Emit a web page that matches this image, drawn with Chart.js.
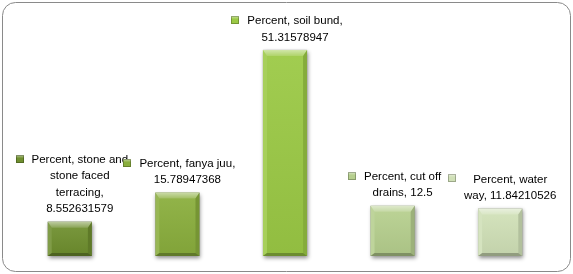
<!DOCTYPE html>
<html>
<head>
<meta charset="utf-8">
<script src="https://cdn.jsdelivr.net/npm/chart.js@4/dist/chart.umd.min.js"></script>
<style>
  html, body { margin: 0; padding: 0; background: #fff; }
  #wrap { width: 573px; height: 274px; }
</style>
</head>
<body>
<div id="wrap"><canvas id="myChart" width="573" height="274"></canvas></div>
<script>
// chart data
var categories = ['stone and stone faced terracing', 'fanya juu', 'soil bund', 'cut off drains', 'water way'];
var percentValues = [8.552631579, 15.78947368, 51.31578947, 12.5, 11.84210526];
// data label text, as the wrapped lines shown in the picture
var labelLines = [
    ['Percent, stone and', 'stone faced', 'terracing,', '8.552631579'],
    ['Percent, fanya juu,', '15.78947368'],
    ['Percent, soil bund,', '51.31578947'],
    ['Percent, cut off', 'drains, 12.5'],
    ['Percent, water', 'way, 11.84210526']
];
var barColors = ['#6f8f2f', '#8aae3d', '#9bc945', '#b6cf8e', '#d0e0b7'];

const labelFont = '11.5px "Liberation Sans", Arial, sans-serif';

// white background + rounded grey frame
var framePlugin = {
    id: 'frame',
    beforeDraw: function (chart) {
        var ctx = chart.ctx;
        ctx.save();
        ctx.fillStyle = '#fff';
        ctx.fillRect(0, 0, chart.width, chart.height);
        ctx.beginPath();
        ctx.roundRect(2.5, 2.5, chart.width - 5, chart.height - 5, 13);
        ctx.strokeStyle = '#8a8a8a';
        ctx.lineWidth = 1;
        ctx.stroke();
        ctx.restore();
    }
};

// drop shadow under bars, bevel on top of them
var bevelPlugin = {
    id: 'bevel',
    beforeDatasetsDraw: function (chart) {
        var ctx = chart.ctx;
        var bars = chart.getDatasetMeta(0).data;
        ctx.save();
        ctx.shadowColor = 'rgba(0,0,0,0.45)';
        ctx.shadowBlur = 4;
        ctx.shadowOffsetX = 1;
        ctx.shadowOffsetY = 2;
        ctx.fillStyle = '#888';
        bars.forEach(function (bar) {
            var p = bar.getProps(['x', 'y', 'base', 'width'], true);
            ctx.fillRect(p.x - p.width / 2, p.y, p.width, p.base - p.y);
        });
        ctx.restore();
    },
    afterDatasetsDraw: function (chart) {
        var ctx = chart.ctx;
        var bars = chart.getDatasetMeta(0).data;
        ctx.save();
        bars.forEach(function (bar) {
            var p = bar.getProps(['x', 'y', 'base', 'width'], true);
            var l = p.x - p.width / 2, r = p.x + p.width / 2, t = p.y, b = p.base;
            var bt = 6, bs = 4, bb = 3;

            function poly(pts, fill) {
                ctx.beginPath();
                ctx.moveTo(pts[0][0], pts[0][1]);
                for (let i = 1; i < pts.length; i++) ctx.lineTo(pts[i][0], pts[i][1]);
                ctx.closePath();
                ctx.fillStyle = fill;
                ctx.fill();
            }
            var g = ctx.createLinearGradient(0, t, 0, t + bt);
            g.addColorStop(0, 'rgba(255,255,255,0.55)');
            g.addColorStop(1, 'rgba(255,255,255,0.2)');
            poly([[l, t], [r, t], [r - bs, t + bt], [l + bs, t + bt]], g);
            poly([[l, t], [l + bs, t + bt], [l + bs, b - bb], [l, b]], 'rgba(255,255,255,0.12)');
            poly([[r, t], [r - bs, t + bt], [r - bs, b - bb], [r, b]], 'rgba(0,0,0,0.14)');
            poly([[l, b], [l + bs, b - bb], [r - bs, b - bb], [r, b]], 'rgba(0,0,0,0.3)');
            // soft body shading
            var gb = ctx.createLinearGradient(0, t + bt, 0, b - bb);
            gb.addColorStop(0, 'rgba(255,255,255,0.06)');
            gb.addColorStop(1, 'rgba(0,0,0,0.06)');
            ctx.fillStyle = gb;
            ctx.fillRect(l + bs, t + bt, p.width - 2 * bs, b - bb - t - bt);
        });
        ctx.restore();
    }
};

// data labels with a small colour key square in front
var labelPlugin = {
    id: 'barLabels',
    afterDatasetsDraw: function (chart) {
        var ctx = chart.ctx;
        var bars = chart.getDatasetMeta(0).data;
        var lineH = 16.5;
        var ms = 8;
        ctx.save();
        ctx.font = labelFont;
        ctx.textAlign = 'center';
        ctx.textBaseline = 'middle';
        bars.forEach(function (bar, i) {
            var lines = labelLines[i];
            var cx = bar.x + 10;
            var lastY = bar.y - 12.5;
            var firstY = lastY - (lines.length - 1) * lineH;
            var w = 0;
            lines.forEach(function (s) { w = Math.max(w, ctx.measureText(s).width); });
            var mx = Math.round(cx - w / 2 - 8 - ms);
            var my = Math.round(firstY - 5);
            var mg = ctx.createLinearGradient(0, my, 0, my + ms);
            mg.addColorStop(0, 'rgba(255,255,255,0.5)');
            mg.addColorStop(0.4, 'rgba(255,255,255,0)');
            ctx.fillStyle = barColors[i];
            ctx.fillRect(mx, my, ms, ms);
            ctx.fillStyle = mg;
            ctx.fillRect(mx, my, ms, ms);
            ctx.strokeStyle = 'rgba(0,0,0,0.25)';
            ctx.lineWidth = 1;
            ctx.strokeRect(mx + 0.5, my + 0.5, ms - 1, ms - 1);
            ctx.fillStyle = '#000';
            lines.forEach(function (s, k) {
                ctx.fillText(s, cx, firstY + k * lineH);
            });
        });
        ctx.restore();
    }
};

const ctx = document.getElementById('myChart');
var myChart = new Chart(ctx, {
    type: 'bar',
    data: {
        labels: categories,
        datasets: [{
            label: 'Percent',
            data: percentValues,
            backgroundColor: barColors,
            borderWidth: 0,
            categoryPercentage: 1,
            barPercentage: 0.41
        }]
    },
    options: {
        responsive: false,
        animation: false,
        layout: { padding: { left: 16, right: 19, top: 15, bottom: 18 } },
        plugins: {
            legend: { display: false },
            tooltip: { enabled: false }
        },
        scales: {
            x: { display: false },
            y: { display: false, min: 0, max: 60 }
        }
    },
    plugins: [framePlugin, bevelPlugin, labelPlugin]
});
</script>
</body>
</html>
